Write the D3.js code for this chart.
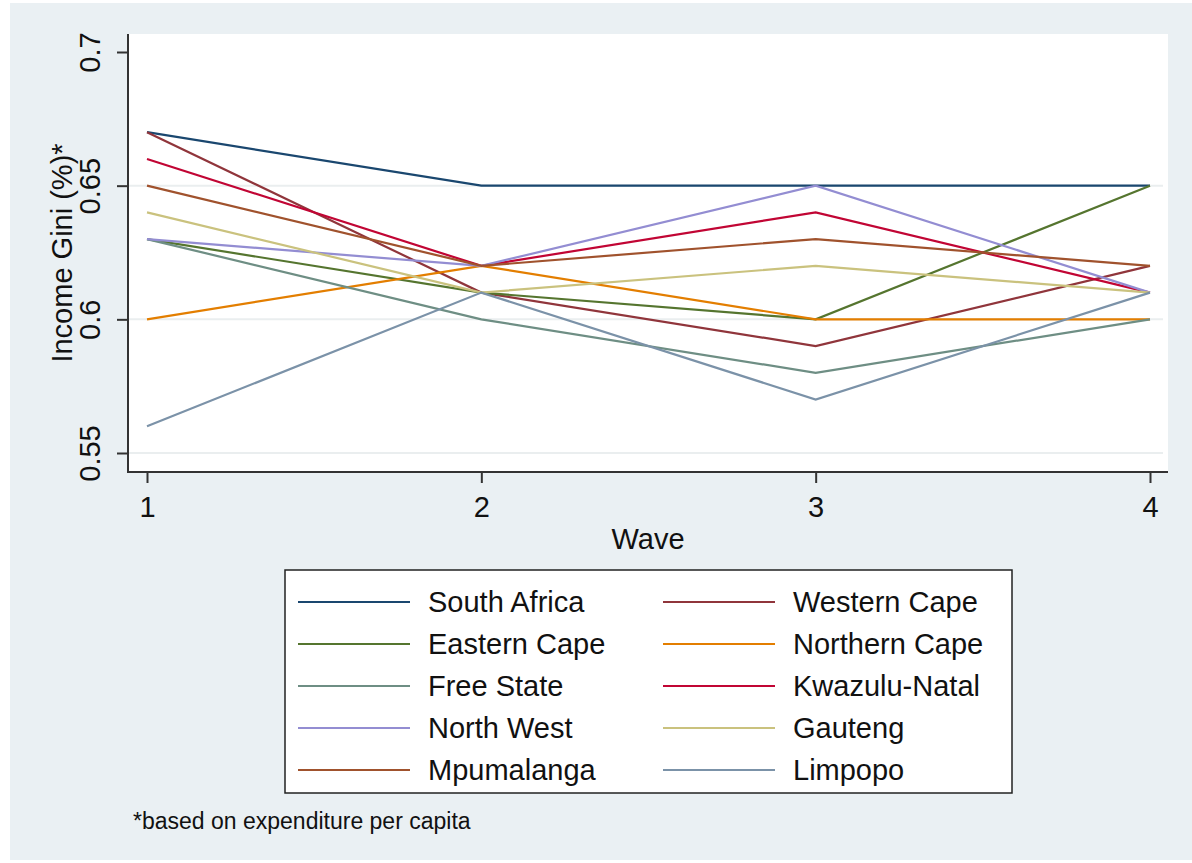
<!DOCTYPE html>
<html>
<head>
<meta charset="utf-8">
<script src="https://cdn.jsdelivr.net/npm/d3@7"></script>
<style>
  body { margin: 0; background: #fff; }
  text { font-family: "Liberation Sans", Arial, sans-serif; fill: #111; }
</style>
</head>
<body>
<div id="chart"></div>
<script>
// data
const waves = [1, 2, 3, 4];
const yTicks = [0.55, 0.6, 0.65, 0.7];
const regions = ["South Africa", "Western Cape", "Eastern Cape", "Northern Cape", "Free State",
                 "Kwazulu-Natal", "North West", "Gauteng", "Mpumalanga", "Limpopo"];
const southAfrica  = [0.67, 0.65, 0.65, 0.65];
const westernCape  = [0.67, 0.61, 0.59, 0.62];
const easternCape  = [0.63, 0.61, 0.60, 0.65];
const northernCape = [0.60, 0.62, 0.60, 0.60];
const freeState    = [0.63, 0.60, 0.58, 0.60];
const kwazuluNatal = [0.66, 0.62, 0.64, 0.61];
const northWest    = [0.63, 0.62, 0.65, 0.61];
const gauteng      = [0.64, 0.61, 0.62, 0.61];
const mpumalanga   = [0.65, 0.62, 0.63, 0.62];
const limpopo      = [0.56, 0.61, 0.57, 0.61];
const allValues = [southAfrica, westernCape, easternCape, northernCape, freeState,
                   kwazuluNatal, northWest, gauteng, mpumalanga, limpopo];

// stata s2color
const colors = ["#1a476f", "#90353b", "#55752f", "#e37e00", "#6e8e84",
                "#c10534", "#938dd2", "#cac27e", "#a0522d", "#7b92a8"];

const W = 1192, H = 863;
const plot = { left: 128, right: 1168, top: 34, bottom: 472 };
const fontSize = 29;

const svg = d3.select("#chart").append("svg")
  .attr("width", W)
  .attr("height", H);

svg.append("rect")
  .attr("x", 10).attr("y", 3)
  .attr("width", W - 10).attr("height", H - 6)
  .attr("fill", "#eaf0f3");

svg.append("rect")
  .attr("x", plot.left).attr("y", plot.top)
  .attr("width", plot.right - plot.left).attr("height", plot.bottom - plot.top)
  .attr("fill", "#fff");

const x = d3.scaleLinear().domain([1, 4]).range([147, 1150]);
const y = d3.scaleLinear().domain([0.55, 0.7]).range([453, 52]);

// grid
svg.append("g")
  .selectAll("line")
  .data(yTicks.slice(0, 3))
  .join("line")
  .attr("x1", plot.left).attr("x2", plot.right - 5)
  .attr("y1", d => y(d)).attr("y2", d => y(d))
  .attr("stroke", "#eaeeef")
  .attr("stroke-width", 2);

// lines
const line = d3.line()
  .x((d, i) => x(waves[i]))
  .y(d => y(d));

svg.append("g")
  .selectAll("path")
  .data(allValues)
  .join("path")
  .attr("d", d => line(d))
  .attr("fill", "none")
  .attr("stroke", (d, i) => colors[i])
  .attr("stroke-width", 2.2);

// axes
const yAxis = svg.append("g")
  .attr("transform", `translate(${plot.left},0)`)
  .call(d3.axisLeft(y).tickValues(yTicks).tickSize(11).tickFormat(d3.format("")));
yAxis.select(".domain").remove();
yAxis.selectAll(".tick line").attr("stroke", "#333").attr("stroke-width", 2);
yAxis.selectAll(".tick text")
  .attr("font-size", fontSize)
  .attr("text-anchor", "middle")
  .attr("x", null).attr("dy", null)
  .attr("transform", "translate(-28,0) rotate(-90)");

const xAxis = svg.append("g")
  .attr("transform", `translate(0,${plot.bottom})`)
  .call(d3.axisBottom(x).tickValues(waves).tickSize(11).tickFormat(d3.format("d")));
xAxis.select(".domain").remove();
xAxis.selectAll(".tick line").attr("stroke", "#333").attr("stroke-width", 2);
xAxis.selectAll(".tick text")
  .attr("font-size", fontSize)
  .attr("y", 45).attr("dy", null);

svg.append("line")
  .attr("x1", plot.left).attr("x2", plot.left)
  .attr("y1", plot.top).attr("y2", plot.bottom + 1)
  .attr("stroke", "#333").attr("stroke-width", 2);
svg.append("line")
  .attr("x1", plot.left - 1).attr("x2", plot.right)
  .attr("y1", plot.bottom).attr("y2", plot.bottom)
  .attr("stroke", "#333").attr("stroke-width", 2);

// axis titles
svg.append("text")
  .attr("transform", `translate(72,${(plot.top + plot.bottom) / 2}) rotate(-90)`)
  .attr("text-anchor", "middle")
  .attr("font-size", fontSize)
  .text("Income Gini (%)*");

svg.append("text")
  .attr("x", (plot.left + plot.right) / 2)
  .attr("y", 549)
  .attr("text-anchor", "middle")
  .attr("font-size", fontSize)
  .text("Wave");

// legend
const legend = svg.append("g");
legend.append("rect")
  .attr("x", 285).attr("y", 570)
  .attr("width", 727).attr("height", 223)
  .attr("fill", "#fff")
  .attr("stroke", "#222")
  .attr("stroke-width", 1.5);

const items = legend.selectAll("g.item")
  .data(regions)
  .join("g")
  .attr("class", "item")
  .attr("transform", (d, i) => `translate(${i % 2 === 0 ? 298 : 663},${602 + Math.floor(i / 2) * 42})`);

items.append("line")
  .attr("x1", 0).attr("x2", 112)
  .attr("stroke", (d, i) => colors[i])
  .attr("stroke-width", 2.2);

items.append("text")
  .attr("x", 130)
  .attr("dy", "0.35em")
  .attr("font-size", fontSize)
  .text(d => d);

// note
svg.append("text")
  .attr("x", 133).attr("y", 829)
  .attr("font-size", 23)
  .text("*based on expenditure per capita");
</script>
</body>
</html>
